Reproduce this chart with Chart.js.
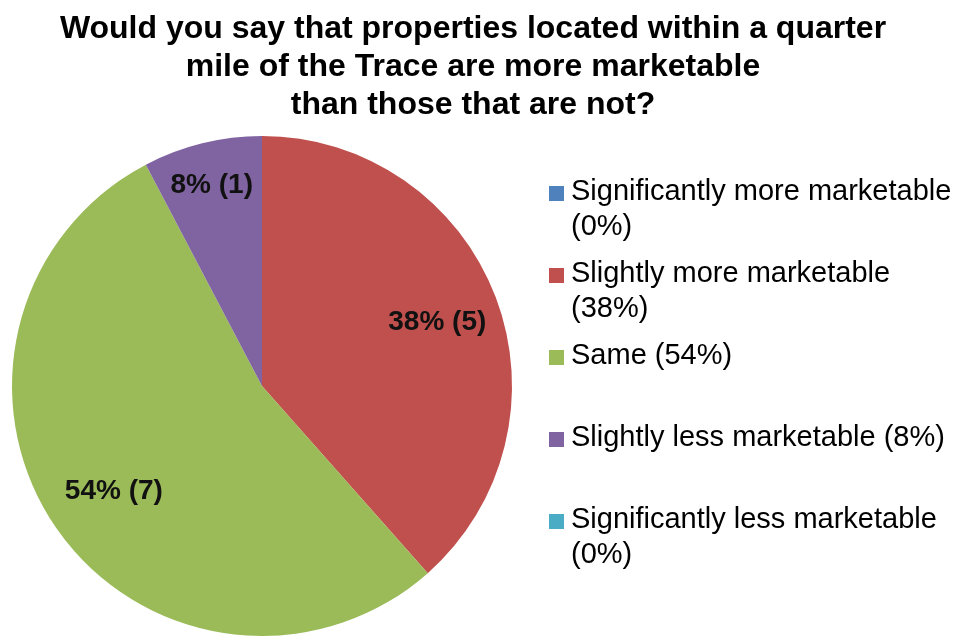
<!DOCTYPE html>
<html>
<head>
<meta charset="utf-8">
<script src="https://cdn.jsdelivr.net/npm/chart.js@4/dist/chart.umd.min.js"></script>
<style>
    html, body { margin: 0; padding: 0; background: #fff; overflow: hidden; }
    #wrap { position: relative; width: 959px; height: 636px; font-family: "Liberation Sans", Arial, sans-serif; }
    #pieChart { position: absolute; left: 0; top: 0; }
    #title { position: absolute; left: 0; top: 8px; width: 946px; text-align: center;
             font-weight: bold; font-size: 32px; line-height: 38px; color: #000; }
    .legend-item { position: absolute; left: 571px; width: 388px; font-size: 29px; line-height: 35px; color: #000; }
    .legend-box { position: absolute; left: -22px; top: 13px; width: 15px; height: 15px; }
</style>
</head>
<body>
<div id="wrap">
    <canvas id="pieChart" width="959" height="636"></canvas>
    <div id="title"></div>
    <div id="legend"></div>
</div>
<script>
const titleLines = [
    'Would you say that properties located within a quarter',
    'mile of the Trace are more marketable',
    'than those that are not?'
];
const answers = [
    'Significantly more marketable',
    'Slightly more marketable',
    'Same',
    'Slightly less marketable',
    'Significantly less marketable'
];
const responses = [0, 5, 7, 1, 0];
const sliceColors = ['#4f81bd', '#c0504d', '#9bbb59', '#8064a2', '#4bacc6'];

const total = responses.reduce((a, b) => a + b, 0);
const percents = responses.map(n => Math.round(n / total * 100));

document.getElementById('title').innerHTML = titleLines.join('<br>');

// legend on the right, one entry per answer
const legend = document.getElementById('legend');
answers.forEach((name, i) => {
    const item = document.createElement('div');
    item.className = 'legend-item';
    item.style.top = (173 + i * 82) + 'px';
    const box = document.createElement('span');
    box.className = 'legend-box';
    box.style.background = sliceColors[i];
    item.appendChild(box);
    item.appendChild(document.createTextNode(`${name} (${percents[i]}%)`));
    legend.appendChild(item);
});

// "pct% (count)" written inside each non-empty slice
const sliceLabels = {
    id: 'sliceLabels',
    afterDatasetsDraw(chart) {
        const ctx = chart.ctx;
        const meta = chart.getDatasetMeta(0);
        ctx.save();
        ctx.font = 'bold 28px "Liberation Sans", Arial, sans-serif';
        ctx.fillStyle = '#111';
        ctx.textAlign = 'center';
        ctx.textBaseline = 'middle';
        meta.data.forEach((arc, i) => {
            if (!responses[i]) return;
            const mid = (arc.startAngle + arc.endAngle) / 2;
            // narrow slices push the label further out, wide ones pull it in
            let frac = 0.75;
            if (arc.circumference < 0.6) frac = 0.84;
            else if (arc.circumference > Math.PI) frac = 0.72;
            const r = arc.outerRadius * frac;
            const x = arc.x + Math.cos(mid) * r;
            const y = arc.y + Math.sin(mid) * r + 3;
            ctx.fillText(`${percents[i]}% (${responses[i]})`, x, y);
        });
        ctx.restore();
    }
};

new Chart(document.getElementById('pieChart').getContext('2d'), {
    type: 'pie',
    data: {
        labels: answers,
        datasets: [{
            data: responses,
            backgroundColor: sliceColors,
            borderWidth: 0
        }]
    },
    options: {
        responsive: false,
        animation: false,
        layout: {
            padding: { left: 12, right: 447, top: 136, bottom: 0 }
        },
        plugins: {
            legend: { display: false },
            tooltip: { enabled: false }
        }
    },
    plugins: [sliceLabels]
});
</script>
</body>
</html>
